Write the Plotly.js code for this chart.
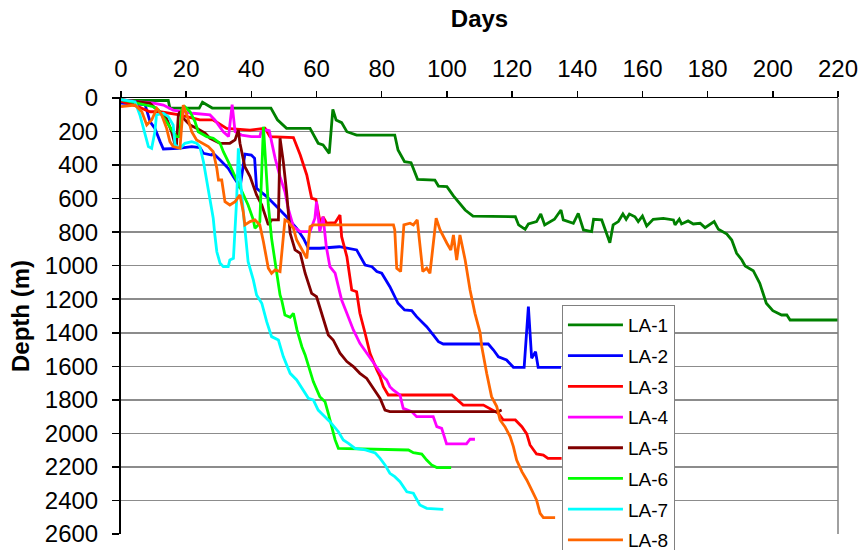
<!DOCTYPE html>
<html>
<head>
<meta charset="utf-8">
<script src="https://cdn.plot.ly/plotly-3.0.1.min.js"></script>
<style>html,body{margin:0;padding:0;background:#fff;}#chart{width:859px;height:550px;}</style>
</head>
<body>
<div id="chart"></div>
<script>
// ---- data (days, depth in m) ----
const seriesNames = ["LA-1","LA-2","LA-3","LA-4","LA-5","LA-6","LA-7","LA-8"];

const la1Days  = [0,14.5,15,24,25,28,46,48,50.8,58,60.5,62,63.9,65,66,67.7,69.3,72.3,84,85,87,89,91,96.3,97.4,100,102,105.6,108,114,121,122,124,125,127.5,128.8,130,133,135,135.7,138.8,140.3,141.9,144.4,145,147.5,150,151,152.6,154,155,156,157.7,158.7,160,161.3,163.3,166.4,169.5,170,171.3,172,174,175.6,177.7,179.2,182,183.3,185.9,187.4,188.9,190.5,191.5,194,196,198,200,202.7,204.3,205.3,220];
const la1Depth = [15,15,60,60,25,60,60,130,181,181,270,280,330,68,131,147,201,221,221,310,380,386,485,489,525,529,584,668,704,704,708,757,783,751,737,692,757,723,668,727,747,688,787,797,723,727,863,757,737,692,723,692,708,737,704,763,723,718,727,757,723,751,733,751,747,773,737,783,811,847,926,966,1002,1030,1105,1224,1268,1294,1294,1324,1324];

const la2Days  = [0,7.4,8.9,10.4,12,13,17.6,21.7,24.2,25.3,27.8,28.3,30.4,32.9,34.5,35.5,36.5,37.3,38,40,41,41.6,44.7,48.8,50.8,53.9,56,57.5,61,67,69.3,72.3,74.9,77,78.5,80,82.5,85,87,89.2,90.7,93.8,95.8,97.4,98.9,112.7,114.3,115.8,118.3,120.4,123.7,125,126,127.2,128,135];
const la2Depth = [30,40,141,181,260,304,300,290,296,330,340,330,370,419,469,499,538,420,335,340,360,538,588,668,708,777,837,896,896,887,896,906,996,1006,1035,1045,1125,1224,1264,1268,1304,1364,1413,1453,1467,1467,1503,1543,1562,1606,1606,1244,1552,1513,1606,1606];

const la3Days  = [0,5,8.9,12,18,24.2,28.3,32.4,39.6,44.2,45.7,52.9,55,57,58.5,59.8,61.2,62,63.1,65.7,67.2,67.7,69.3,70.8,72.3,73.3,74.9,76.4,78.5,79.5,80.5,82,101.5,104,105,111.2,113.2,115.8,117.3,121,123,124.5,125.5,127.5,129.6,131,135.2];
const la3Depth = [20,50,82,82,101,131,131,181,191,181,230,236,340,459,598,604,751,710,747,744,698,827,946,1145,1155,1284,1403,1522,1622,1662,1721,1771,1771,1811,1831,1831,1851,1880,1920,1920,1960,2003,2069,2123,2129,2149,2149];

const la4Days  = [0,4.8,10,13,16,18.6,22,27.3,28.8,31.4,33,34.1,35,37,40,42.6,43,44.7,45.5,46.2,47.3,48.8,50.3,51.3,52.9,55,58,59.5,60,61,62,63,64.1,65.7,67.7,69.3,71.3,73.3,75.4,77,78.5,80.5,81.5,82.5,83.5,85.6,86.6,89.2,90.7,95.8,96.9,98.4,99.9,106,107.1,108.6];
const la4Depth = [10,22,30,42,72,82,91,101,131,201,230,40,200,221,230,230,201,191,195,260,360,469,559,658,767,797,797,717,618,797,708,887,1006,1045,1205,1284,1383,1463,1522,1562,1602,1662,1681,1721,1741,1771,1851,1870,1900,1900,1960,1970,2063,2063,2035,2035];

const la5Days  = [0,6,8.9,14,15.5,16.6,17,17.6,18.1,19.1,21.2,23.2,25.8,27.3,29.4,30.4,33.4,35,36,36.5,38,39.6,41.6,43.2,44.7,45.2,46.2,48.3,48.8,49.8,50.8,51.9,53.4,55,56.5,58.5,60,61.6,63.6,65.1,67.2,69.3,71.3,73.3,75.4,77.4,79.5,81,82.5,115.8,116.8];
const la5Depth = [10,22,32,121,201,280,290,101,82,121,161,181,210,240,260,270,270,250,191,270,410,469,578,638,727,757,727,727,240,380,559,807,906,926,1045,1165,1185,1284,1413,1443,1522,1572,1602,1642,1672,1731,1791,1861,1870,1870,1861];

const la6Days  = [0,6.8,9.9,11.5,14,16,17,18,18.6,19.6,21.2,22.7,23.7,26.3,28.3,30.4,31.4,32.9,34.5,36,37.5,39,40.6,41.1,42.1,42.6,43.7,45.2,46.2,47.3,48.8,49.3,50.3,51.9,52.9,54,55.5,56.5,57.5,59,61,62.6,63.6,64.6,65.7,66.7,79.5,88.2,89.7,92.3,93.8,95.3,96.9,101.3];
const la6Depth = [10,42,52,72,141,201,230,230,72,52,82,141,201,230,240,270,320,380,449,519,578,638,727,777,757,737,171,638,837,976,1175,1205,1294,1308,1284,1383,1483,1532,1602,1691,1781,1811,1880,1960,2039,2089,2095,2099,2115,2123,2159,2188,2204,2204];

const la7Days  = [0,4.3,5.8,7.4,8.4,9.4,10.4,10.9,13,14.5,16,16.6,18.1,19.6,21.7,23.2,24.2,25.3,26.3,27.3,28.3,28.8,29.4,30.4,31.4,32.9,33.4,34.5,35,35.5,36,36.5,38,39,40.6,41.6,43.2,44.7,46.2,48.3,49.8,51.9,53.9,56,57.5,59,60.5,62,64.1,66.7,68.2,69.8,71.8,75,78,79.5,81,82.5,84,85.6,87.7,89.7,91.7,93.8,98.9];
const la7Depth = [10,22,101,221,290,300,201,101,91,111,161,280,300,270,260,270,290,380,499,598,717,817,917,986,1006,1006,966,956,777,600,300,459,777,976,1085,1175,1224,1334,1423,1443,1542,1642,1681,1741,1791,1801,1861,1890,1930,1990,2039,2059,2089,2099,2117,2149,2188,2238,2258,2288,2348,2357,2427,2447,2453];

const la8Days  = [0,4.3,6.4,7.9,9.4,11,12.5,14,15,16,18.1,19.1,20.2,21.7,23.2,24.8,26.8,28.3,29.4,29.9,30.9,31.9,33.4,35,36.5,37.5,38,39.6,41.1,42.6,43.7,45.2,46.2,47.3,48.8,50.3,51.3,52.9,53.9,57,58,59,83.6,84,84.6,85.8,86.8,88.7,89.7,90.9,92.6,93.8,94.8,96.7,97.9,100,101.2,102,103,104,105.6,107.1,108.6,110.2,110.7,112.2,113.7,115.3,116.3,117.8,119.4,120.4,121.4,123,124.5,126,127.5,128.6,129.6,133.2];
const la8Depth = [52,42,82,161,131,62,101,181,260,290,300,42,101,201,250,270,290,320,419,489,489,618,638,618,578,678,757,737,727,757,857,1015,1045,1025,1035,727,737,777,847,956,767,757,757,787,1015,1035,757,747,757,727,1035,1015,1045,717,787,866,906,817,966,817,966,1145,1284,1400,1483,1642,1781,1840,1920,1960,2019,2079,2159,2228,2278,2337,2397,2477,2502,2502];

const seriesColors = ["#008000","#0000FF","#FF0000","#FF00FF","#800000","#00FF00","#00FFFF","#FF6600"];
const dayTicks = [0,20,40,60,80,100,120,140,160,180,200,220];
const depthTicks = [0,200,400,600,800,1000,1200,1400,1600,1800,2000,2200,2400,2600];

const allDays = [la1Days,la2Days,la3Days,la4Days,la5Days,la6Days,la7Days,la8Days];
const allDepth = [la1Depth,la2Depth,la3Depth,la4Depth,la5Depth,la6Depth,la7Depth,la8Depth];

const traces = seriesNames.map((n,i)=>({
  type:'scatter', mode:'lines', name:n,
  x: allDays[i], y: allDepth[i],
  line:{color:seriesColors[i], width:2.8},
  legendgroup:n
}));

const FONT = 'Liberation Sans, Arial, sans-serif';
const layout = {
  width:859, height:550,
  margin:{l:121, r:21, t:98, b:16, pad:0, autoexpand:false},
  paper_bgcolor:'#fff', plot_bgcolor:'#fff',
  font:{family:FONT, size:24, color:'#000'},
  showlegend:true,
  xaxis:{
    side:'top', range:[0,220], tickmode:'array', tickvals:dayTicks, ticktext:dayTicks.map(String),
    showgrid:false, zeroline:false, showline:true, linecolor:'#000', linewidth:1.5,
    ticks:'outside', ticklen:6, tickwidth:1.5, tickcolor:'#000', ticklabelstandoff:4,
    tickfont:{family:FONT, size:24}, automargin:false,
    title:{text:'<b>Days</b>', font:{family:FONT, size:24}, standoff:20}
  },
  yaxis:{
    range:[2600,0], tickmode:'array', tickvals:depthTicks, ticktext:depthTicks.map(String),
    showgrid:true, gridcolor:'#8c8c8c', gridwidth:1.5, zeroline:false,
    showline:true, linecolor:'#000', linewidth:2,
    ticks:'outside', ticklen:7, tickwidth:1.5, tickcolor:'#000', ticklabelstandoff:9,
    tickfont:{family:FONT, size:24}, automargin:false,
    title:{text:'<b>Depth (m)</b>', font:{family:FONT, size:24}, standoff:8}
  },
  legend:{
    x:0.615, y:0.525, xanchor:'left', yanchor:'top',
    bgcolor:'#fff', bordercolor:'#808080', borderwidth:1,
    font:{family:FONT, size:19, color:'#000'},
    traceorder:'grouped', tracegroupgap:3, itemwidth:55
  },
  shapes:[{type:'line', xref:'paper', yref:'paper', x0:1, x1:1, y0:0, y1:1, line:{color:'#808080', width:1.5}}]
};

Plotly.newPlot('chart', traces, layout, {displayModeBar:false, staticPlot:true});
</script>
</body>
</html>
